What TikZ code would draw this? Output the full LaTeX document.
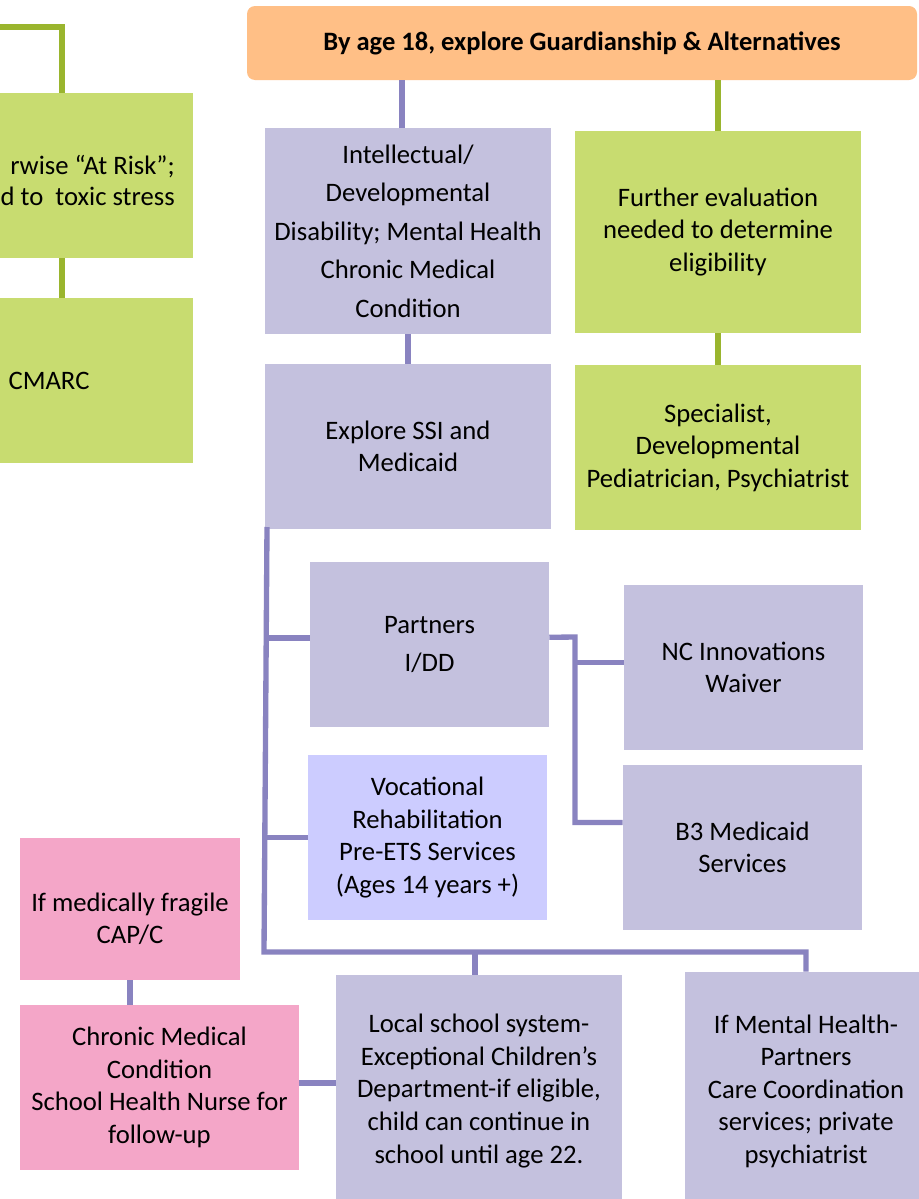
\documentclass[tikz,border=0pt]{standalone}
\usepackage{fontspec}
\setmainfont{Carlito}
\definecolor{lavbox}{RGB}{196,193,222}
\definecolor{vocbox}{RGB}{204,204,255}
\definecolor{grnbox}{RGB}{200,220,112}
\definecolor{pnkbox}{RGB}{244,166,200}
\definecolor{orgbox}{RGB}{255,191,134}
\definecolor{plink}{RGB}{137,131,192}
\definecolor{glink}{RGB}{154,181,46}
\tikzset{
  bx/.style={rectangle, inner sep=0pt, align=center, text=black, font=\fontsize{20}{24.4}\selectfont},
  wide/.style={font=\fontsize{20}{28.9}\selectfont},
  lav/.style={bx, fill=lavbox},
  voc/.style={bx, fill=vocbox},
  grn/.style={bx, fill=grnbox},
  pnk/.style={bx, fill=pnkbox},
  sz/.style 2 args={minimum width=#1*0.75pt, minimum height=#2*0.75pt},
  pl/.style={draw=plink, line width=4pt},
  gl/.style={draw=glink, line width=4pt},
  txt/.style={inner sep=0pt, align=center, font=\fontsize{20}{24.4}\selectfont}
}
\begin{document}
\begin{tikzpicture}[x=0.75pt, y=-0.75pt]
\useasboundingbox (0,0) rectangle (919,1199);
\clip (0,0) rectangle (919,1199);
\fill[white] (0,0) rectangle (919,1199);

% top heading box
\node[bx, fill=orgbox, rounded corners=6pt, sz={670}{74}, font=\fontsize{19.9}{23}\selectfont\bfseries] (org) at (582,43) {By age 18, explore Guardianship \& Alternatives};

% left (cropped) green column
\node[grn, sz={288}{165}] (atrisk) at (49,175.5) {};
\node[txt, anchor=east, align=right, font=\fontsize{20}{23.25}\selectfont] (atrisktext) at (175,180.5) {rwise “At Risk”;\\d to\ \ toxic stress};
\node[grn, sz={288}{165}] (cmarc) at (49,380.5) {CMARC};

% main column
\node[lav, wide, sz={286}{206}] (intel) at (408,231) {Intellectual/\\Developmental\\Disability; Mental Health\\Chronic Medical\\Condition};
\node[grn, sz={286}{202}] (further) at (718,232) {Further evaluation\\needed to determine\\eligibility};
\node[lav, sz={286}{165}] (ssi) at (408,446.5) {Explore SSI and\\Medicaid};
\node[grn, sz={286}{165}] (spec) at (718,447.5) {Specialist,\\Developmental\\Pediatrician, Psychiatrist};
\node[lav, wide, sz={239}{165}] (partners) at (429.5,644.5) {Partners\\I/DD};
\node[lav, sz={239}{165}] (nc) at (743.5,667.5) {NC Innovations\\Waiver};
\node[voc, sz={239}{165}] (vr) at (427.5,837.5) {Vocational\\Rehabilitation\\Pre-ETS Services\\(Ages 14 years +)};
\node[lav, sz={239}{165}] (b3) at (742.5,847.5) {B3 Medicaid\\Services};
\node[pnk, sz={220}{142}] (frag) at (130,909) {};
\node[txt] (fragtext) at (130,919) {If medically fragile\\CAP/C};
\node[pnk, sz={279}{165}] (chronic) at (159.5,1087.5) {Chronic Medical\\Condition\\School Health Nurse for\\follow-up};
\node[lav, sz={286}{232}] (local) at (479,1091) {Local school system-\\Exceptional Children’s\\Department-if eligible,\\child can continue in\\school until age 22.};
\node[lav, sz={242}{238}] (mh) at (806,1091) {If Mental Health-\\Partners\\Care Coordination\\services; private\\psychiatrist};

% connectors: green
\coordinate (lt) at (0,27);
\draw[gl] (lt) -| ([xshift=9.75pt]atrisk.north);
\draw[gl] ([xshift=9.75pt]atrisk.south) -- ([xshift=9.75pt]cmarc.north);
\draw[gl] (further.north) -- (further.north |- org.south);
\draw[gl] (further.south) -- (spec.north);

% connectors: purple
\draw[pl] ([xshift=-4.5pt]intel.north) -- ([xshift=-4.5pt]intel.north |- org.south);
\draw[pl] (intel.south) -- (ssi.north);
\coordinate (sp1) at (267,527);
\coordinate (sp2) at (264,952);
\draw[pl] (sp1) -- (sp2) -- (sp2 -| mh.north) -- (mh.north);
\draw[pl] ([xshift=-3pt]local.north) -- ([xshift=-3pt]local.north |- sp2);
\draw[pl] ([yshift=4.9pt]partners.west) -- ([yshift=4.9pt]partners.west -| sp1);
\draw[pl] (vr.west) -- (vr.west -| sp1);
\coordinate (pj) at (575,637);
\coordinate (b3in) at ([yshift=18.75pt]b3.west);
\coordinate (ncin) at ([yshift=4pt]nc.west);
\draw[pl] ([yshift=5.4pt]partners.east) -- (pj) -- (pj |- b3in) -- (b3in);
\draw[pl] (pj |- ncin) -- (ncin);
\draw[pl] (frag.south) -- (frag.south |- chronic.north);
\draw[pl] ([yshift=3.4pt]chronic.east) -- ([yshift=3.4pt]chronic.east -| local.west);
\end{tikzpicture}
\end{document}
